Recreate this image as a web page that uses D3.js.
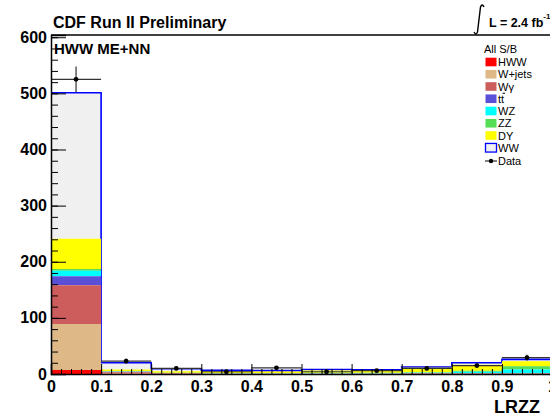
<!DOCTYPE html>
<html>
<head>
<meta charset="utf-8">
<script src="https://cdn.jsdelivr.net/npm/d3@7"></script>
<style>
  html, body { margin: 0; padding: 0; background: #fff; }
  svg { display: block; font-family: "Liberation Sans", Arial, Helvetica, sans-serif; }
</style>
</head>
<body>
<svg id="chart" width="550" height="416"></svg>
<script>
// LRZZ discriminant, 10 bins of width 0.1
const binLow = [0.0, 0.1, 0.2, 0.3, 0.4, 0.5, 0.6, 0.7, 0.8, 0.9];
const binWidth = 0.1;

// Stacked expectations, bottom to top
const hww   = [7,   0.5, 0.3, 0.2, 0.2, 0.2, 0.2, 0.3, 0.3, 0.4];
const wjets = [82,  1.5, 0.6, 0.4, 0.4, 0.4, 0.4, 0.4, 0.4, 0.4];
const wgam  = [69,  1.0, 0.3, 0.2, 0.2, 0.2, 0.2, 0.2, 0.2, 0.2];
const ttbar = [16,  0.8, 0.4, 0.3, 0.3, 0.3, 0.3, 0.3, 0.3, 0.3];
const wz    = [10,  0.6, 0.4, 0.4, 0.4, 0.5, 0.5, 1.2, 3.0, 6.5];
const zz    = [3,   0.6, 0.4, 0.4, 0.4, 0.5, 0.6, 0.8, 1.5, 6.0];
const dy    = [54,  3.0, 2.5, 3.0, 2.6, 4.2, 3.8, 7.8, 11,  9.0];
const ww    = [260, 12,  4.5, 1.8, 1.5, 1.7, 1.5, 1.5, 3.3, 3.2];

// Observed events
const data  = [525, 23, 10, 4, 11, 4, 6, 10, 15, 29];

// Axis ticks
const xMajor = [0, 0.1, 0.2, 0.3, 0.4, 0.5, 0.6, 0.7, 0.8, 0.9, 1.0];
const yMajor = [0, 100, 200, 300, 400, 500, 600];

const layers = [
  { key: "HWW",    vals: hww,   fill: "#ff0000", label: "HWW" },
  { key: "Wjets",  vals: wjets, fill: "#deb887", label: "W+jets" },
  { key: "Wgamma", vals: wgam,  fill: "#cd5c5c", label: "Wγ" },
  { key: "tt",     vals: ttbar, fill: "#5a50d8", label: "tt" },
  { key: "WZ",     vals: wz,    fill: "#00ffff", label: "WZ" },
  { key: "ZZ",     vals: zz,    fill: "#55dd55", label: "ZZ" },
  { key: "DY",     vals: dy,    fill: "#ffff00", label: "DY" },
  { key: "WW",     vals: ww,    fill: "#f0f0f0", label: "WW" }
];

const svg = d3.select("#chart");
svg.append("rect").attr("width", 550).attr("height", 416).attr("fill", "#fff");

const x = d3.scaleLinear().domain([0, 1]).range([51, 552]);
const y = d3.scaleLinear().domain([0, 604]).range([374, 35]);

// Table for d3.stack
const rows = binLow.map((lo, i) => {
  const r = { lo };
  layers.forEach(l => { r[l.key] = l.vals[i]; });
  return r;
});
const stacked = d3.stack().keys(layers.map(l => l.key))(rows);

// Step points: one per bin plus the closing edge
function stepPoints(series) {
  const pts = series.map((d, i) => ({ x: binLow[i], y0: d[0], y1: d[1] }));
  const last = pts[pts.length - 1];
  pts.push({ x: last.x + binWidth, y0: last.y0, y1: last.y1 });
  return pts;
}

const area = d3.area()
  .curve(d3.curveStepAfter)
  .x(d => x(d.x))
  .y0(d => y(d.y0))
  .y1(d => y(d.y1));

const plot = svg.append("g");

// Draw from the top layer down, as the stack is painted
const order = stacked.slice().reverse();
order.forEach(s => {
  const l = layers.find(v => v.key === s.key);
  plot.append("path")
    .attr("d", area(stepPoints(s)))
    .attr("fill", l.fill)
    .attr("stroke", "none");
  if (s.key === "WW") {
    const pts = stepPoints(s);
    const line = d3.line().curve(d3.curveStepAfter).x(d => x(d.x)).y(d => y(d.y1));
    plot.append("path")
      .attr("d", line(pts))
      .attr("fill", "none")
      .attr("stroke", "#0000ff")
      .attr("stroke-width", 1.6);
  }
});

// Data with Poisson errors
const dataG = svg.append("g");
data.forEach((n, i) => {
  const lo = binLow[i], hi = lo + binWidth, c = lo + binWidth / 2;
  const e = Math.sqrt(n);
  dataG.append("line")
    .attr("x1", x(lo)).attr("x2", x(hi))
    .attr("y1", y(n)).attr("y2", y(n))
    .attr("stroke", "#333").attr("stroke-width", 1.2);
  dataG.append("line")
    .attr("x1", x(c)).attr("x2", x(c))
    .attr("y1", y(Math.max(0, n - e))).attr("y2", y(n + e))
    .attr("stroke", "#333").attr("stroke-width", 1.2);
  dataG.append("circle")
    .attr("cx", x(c)).attr("cy", y(n)).attr("r", 2.4)
    .attr("fill", "#000");
});

// Axes with inward ticks
const yAxis = svg.append("g").attr("transform", `translate(${x(0)},0)`)
  .call(d3.axisLeft(y).tickValues(yMajor).tickSize(-15).tickPadding(4).tickFormat(d3.format("d")));
const yMinor = svg.append("g").attr("transform", `translate(${x(0)},0)`)
  .call(d3.axisLeft(y).tickValues(d3.range(0, 601, 20)).tickSize(-7).tickFormat(""));
const xAxis = svg.append("g").attr("transform", `translate(0,${y(0)})`)
  .call(d3.axisBottom(x).tickValues(xMajor).tickSize(-10).tickPadding(7)
    .tickFormat(d => d === 0 ? "0" : d === 1 ? "1" : d3.format(".1f")(d)));
const xMinor = svg.append("g").attr("transform", `translate(0,${y(0)})`)
  .call(d3.axisBottom(x).tickValues(d3.range(0, 1.001, 0.02)).tickSize(-5).tickFormat(""));

[yAxis, yMinor, xAxis, xMinor].forEach(g => {
  g.selectAll("path.domain").attr("stroke", "#000").attr("stroke-width", 1.5);
  g.selectAll(".tick line").attr("stroke", "#000").attr("stroke-width", 1);
  g.selectAll("text")
    .attr("font-family", "'Liberation Sans', Arial, sans-serif")
    .attr("font-size", 16).attr("font-weight", "bold").attr("fill", "#000");
});
yMinor.select("path.domain").remove();
xMinor.select("path.domain").remove();

// Frame top edge
svg.append("line")
  .attr("x1", x(0)).attr("x2", 552)
  .attr("y1", y(604)).attr("y2", y(604))
  .attr("stroke", "#000").attr("stroke-width", 1.5);

// Titles
svg.append("text").attr("x", 53).attr("y", 27.5)
  .attr("font-size", 16).attr("font-weight", "bold").text("CDF Run II Preliminary");
svg.append("text").attr("x", 54).attr("y", 54)
  .attr("font-size", 15).attr("font-weight", "bold").text("HWW ME+NN");
svg.append("text").attr("x", 540).attr("y", 413).attr("text-anchor", "end")
  .attr("font-size", 18).attr("font-weight", "bold").text("LRZZ");

// Luminosity
svg.append("path")
  .attr("d", "M484,7 Q482,3 480.5,7 L477.5,32 Q476,36 474,32")
  .attr("fill", "none").attr("stroke", "#000").attr("stroke-width", 1.4);
const lum = svg.append("text").attr("x", 489).attr("y", 27)
  .attr("font-size", 12.5).attr("font-weight", "bold");
lum.append("tspan").text("L = 2.4 fb");
lum.append("tspan").attr("font-size", 8).attr("dy", -8).text("-1");

// Legend
const leg = svg.append("g").attr("font-size", 11);
leg.append("text").attr("x", 484).attr("y", 53).text("All S/B");
const legY0 = 62, legDy = 12.25;
layers.forEach((l, i) => {
  const cy = legY0 + i * legDy;
  leg.append("rect")
    .attr("x", 485.5).attr("y", cy - 4.3).attr("width", 11).attr("height", 8.6)
    .attr("fill", l.fill)
    .attr("stroke", l.key === "WW" ? "#0000ff" : "none")
    .attr("stroke-width", 1.3);
  leg.append("text").attr("x", 498).attr("y", cy + 4).text(l.label);
  if (l.key === "tt") {
    leg.append("line").attr("x1", 502.5).attr("x2", 505).attr("y1", cy - 5.5).attr("y2", cy - 5.5)
      .attr("stroke", "#000").attr("stroke-width", 1);
  }
});
const dcy = legY0 + layers.length * legDy + 1;
leg.append("line").attr("x1", 485).attr("x2", 497).attr("y1", dcy).attr("y2", dcy)
  .attr("stroke", "#000").attr("stroke-width", 1);
leg.append("circle").attr("cx", 491).attr("cy", dcy).attr("r", 2.2).attr("fill", "#000");
leg.append("text").attr("x", 498).attr("y", dcy + 4).text("Data");
</script>
</body>
</html>
